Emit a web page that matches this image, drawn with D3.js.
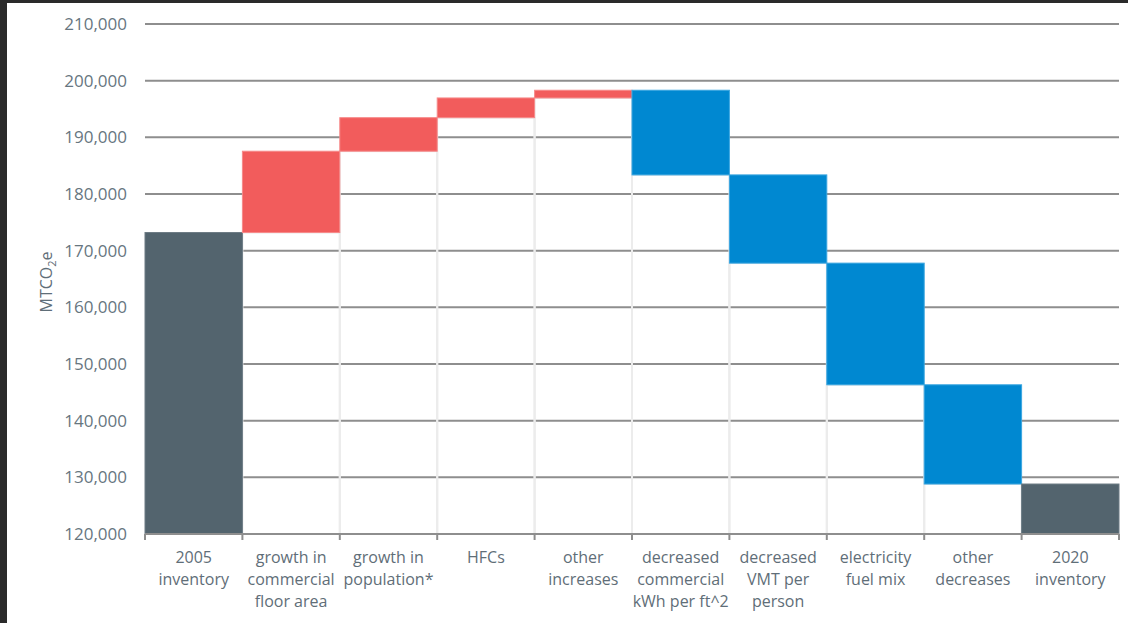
<!DOCTYPE html>
<html>
<head>
<meta charset="utf-8">
<script src="https://cdn.jsdelivr.net/npm/d3@7"></script>
<style>
  html, body { margin: 0; padding: 0; background: #2a2a2a; }
  #chart { position: absolute; left: 7px; top: 3px; }
  text { font-family: "Open Sans", "Noto Sans", sans-serif; }
</style>
</head>
<body>
<div id="chart"></div>
<script>
// categories along the x axis (each line of the label)
let categories = [
  ["2005", "inventory"],
  ["growth in", "commercial", "floor area"],
  ["growth in", "population*"],
  ["HFCs"],
  ["other", "increases"],
  ["decreased", "commercial", "kWh per ft^2"],
  ["decreased", "VMT per", "person"],
  ["electricity", "fuel mix"],
  ["other", "decreases"],
  ["2020", "inventory"]
];

// step values: totals for the inventories, changes for the rest
let startTotal = 173200;
let changes = [14350, 5920, 3480, 1360, -14940, -15570, -21470, -17510];
let yTicks = [120000, 130000, 140000, 150000, 160000, 170000, 180000, 190000, 200000, 210000];

// build the waterfall steps
let steps = [];
let running = startTotal;
steps.push({ i: 0, lo: 120000, hi: startTotal, kind: "total" });
changes.forEach(function(c, k) {
  let next = running + c;
  steps.push({ i: k + 1, lo: Math.min(running, next), hi: Math.max(running, next), kind: c > 0 ? "up" : "down" });
  running = next;
});
steps.push({ i: changes.length + 1, lo: 120000, hi: running, kind: "total" });

let svgWidth = 1121;
let svgHeight = 620;
let margin = { top: 21, right: 9, bottom: 89, left: 138 };
let width = svgWidth - margin.left - margin.right;
let height = svgHeight - margin.top - margin.bottom;

let svg = d3.select("#chart").append("svg")
  .attr("width", svgWidth)
  .attr("height", svgHeight)
  .style("background", "#ffffff");

let chartGroup = svg.append("g")
  .attr("transform", `translate(${margin.left}, ${margin.top})`);

let x = d3.scaleBand()
  .domain(d3.range(categories.length))
  .range([0, width])
  .padding(0);

let y = d3.scaleLinear()
  .domain([120000, 210000])
  .range([height, 0]);

let colors = { total: "#53646e", up: "#f25c5c", down: "#0088d1" };
let edges = { total: "#6c7b84", up: "#f68a8a", down: "#3aa6e0" };

// horizontal gridlines
chartGroup.selectAll("line.grid")
  .data(yTicks.slice(1))
  .enter()
  .append("line")
  .attr("class", "grid")
  .attr("x1", 0)
  .attr("x2", width)
  .attr("y1", d => y(d))
  .attr("y2", d => y(d))
  .attr("stroke", "#8e8e8e")
  .attr("stroke-width", 2);

// invisible base bars, only their light outline shows
chartGroup.selectAll("rect.base")
  .data(steps.filter(d => d.kind !== "total"))
  .enter()
  .append("rect")
  .attr("class", "base")
  .attr("x", d => x(d.i))
  .attr("width", x.bandwidth())
  .attr("y", d => y(d.lo))
  .attr("height", d => y(120000) - y(d.lo))
  .attr("fill", "none")
  .attr("stroke", "#ececec")
  .attr("stroke-width", 2);

// waterfall bars
chartGroup.selectAll("rect.bar")
  .data(steps)
  .enter()
  .append("rect")
  .attr("class", "bar")
  .attr("x", d => x(d.i))
  .attr("width", x.bandwidth())
  .attr("y", d => y(d.hi))
  .attr("height", d => y(d.lo) - y(d.hi))
  .attr("fill", d => colors[d.kind])
  .attr("stroke", d => edges[d.kind])
  .attr("stroke-width", 1);

// y axis labels
let leftAxis = d3.axisLeft(y)
  .tickValues(yTicks)
  .tickSize(0)
  .tickPadding(18)
  .tickFormat(d3.format(","));

let yAxis = chartGroup.append("g").call(leftAxis);
yAxis.select(".domain").remove();
yAxis.selectAll("text")
  .attr("fill", "#67767f")
  .style("font-size", "17px");

// x axis line and ticks
let bounds = d3.range(categories.length + 1).map(k => k * x.step());
chartGroup.append("line")
  .attr("x1", 0)
  .attr("x2", width)
  .attr("y1", height)
  .attr("y2", height)
  .attr("stroke", "#8e8e8e")
  .attr("stroke-width", 2);

chartGroup.selectAll("line.xtick")
  .data(bounds)
  .enter()
  .append("line")
  .attr("class", "xtick")
  .attr("x1", d => d)
  .attr("x2", d => d)
  .attr("y1", height)
  .attr("y2", height + 6)
  .attr("stroke", "#8e8e8e")
  .attr("stroke-width", 2);

// category labels
let labelsGroup = chartGroup.append("g");
categories.forEach(function(lines, k) {
  let t = labelsGroup.append("text")
    .attr("x", x(k) + x.bandwidth() / 2)
    .attr("y", height + 29)
    .attr("text-anchor", "middle")
    .attr("fill", "#5f6e78")
    .style("font-size", "16px");
  lines.forEach(function(line, j) {
    t.append("tspan")
      .attr("x", x(k) + x.bandwidth() / 2)
      .attr("dy", j === 0 ? 0 : 22)
      .text(line);
  });
});

// y axis title
let yTitle = chartGroup.append("text")
  .attr("transform", `translate(${-93}, ${height / 2 + 3}) rotate(-90)`)
  .attr("text-anchor", "middle")
  .attr("fill", "#5f6e78")
  .style("font-size", "16px");
yTitle.append("tspan").text("MTCO");
yTitle.append("tspan").attr("dy", 4).style("font-size", "11px").text("2");
yTitle.append("tspan").attr("dy", -4).text("e");
</script>
</body>
</html>
